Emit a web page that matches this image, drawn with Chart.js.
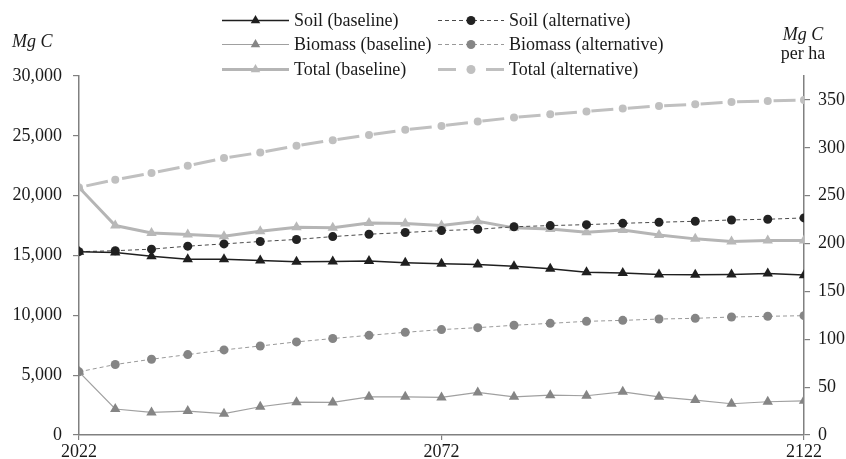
<!DOCTYPE html>
<html>
<head>
<meta charset="utf-8">
<script src="https://cdn.jsdelivr.net/npm/chart.js@4.4.1/dist/chart.umd.min.js"></script>
<style>
  html, body { margin: 0; padding: 0; background: #ffffff; }
  #wrap { width: 846px; height: 459px; position: relative; }
</style>
</head>
<body>
<div id="wrap"><canvas id="chart" width="846" height="459"></canvas></div>
<script>
// Carbon stock projections, 5-year steps
const years = [2022, 2027, 2032, 2037, 2042, 2047, 2052, 2057, 2062, 2067, 2072,
               2077, 2082, 2087, 2092, 2097, 2102, 2107, 2112, 2117, 2122];

const soilBaseline    = [15320, 15250, 14940, 14690, 14690, 14580, 14480, 14500, 14530, 14390, 14310,
                         14250, 14110, 13890, 13610, 13530, 13420, 13390, 13420, 13500, 13360];
const soilAlternative = [15320, 15400, 15530, 15780, 15970, 16170, 16340, 16580, 16780, 16920, 17080,
                         17190, 17400, 17500, 17580, 17690, 17780, 17860, 17970, 18030, 18140];
const biomassBaseline = [5280, 2170, 1890, 2000, 1780, 2360, 2740, 2720, 3190, 3190, 3140,
                         3560, 3190, 3330, 3280, 3610, 3190, 2920, 2610, 2780, 2860];
const biomassAlternative = [5280, 5890, 6330, 6720, 7110, 7440, 7780, 8060, 8330, 8580, 8810,
                            8970, 9170, 9330, 9500, 9580, 9690, 9750, 9860, 9920, 9970];
const totalBaseline   = [20690, 17500, 16890, 16750, 16610, 17030, 17360, 17310, 17720, 17670, 17500,
                         17860, 17310, 17220, 16940, 17140, 16720, 16390, 16170, 16250, 16250];
const totalAlternative = [20690, 21330, 21890, 22500, 23140, 23610, 24180, 24640, 25080, 25500, 25830,
                          26190, 26530, 26800, 27040, 27280, 27500, 27640, 27830, 27920, 28000];

const xTicks     = [2022, 2072, 2122];
const leftTicks  = [0, 5000, 10000, 15000, 20000, 25000, 30000];
const rightTicks = [0, 50, 100, 150, 200, 250, 300, 350];
const leftMax  = 30000;
const rightMax = 375;   // Mg C per ha equivalent of the left maximum

const FONT = "'Liberation Serif', 'Times New Roman', serif";
const TEXT = '#1a1a1a';
const AXIS = '#808080';

const styles = {
  soilB:    { line: '#1f1f1f', width: 1.5, dash: [],        marker: 'triangle', r: 6,   fill: '#1f1f1f' },
  soilA:    { line: '#4a4a4a', width: 1,   dash: [4, 3],    marker: 'circle',   r: 4.5, fill: '#222222' },
  bioB:     { line: '#a0a0a0', width: 1.2, dash: [],        marker: 'triangle', r: 6,   fill: '#858585' },
  bioA:     { line: '#999999', width: 1,   dash: [4, 3],    marker: 'circle',   r: 4.5, fill: '#858585' },
  totB:     { line: '#b5b5b5', width: 3,   dash: [],        marker: 'triangle', r: 6,   fill: '#b8b8b8' },
  totA:     { line: '#c0c0c0', width: 3,   dash: [22, 14.5], dashOffset: 29, marker: 'circle', r: 4, fill: '#c0c0c0' }
};

const toPoints = arr => years.map((x, i) => ({ x, y: arr[i] }));

function ds(label, values, st) {
  return {
    label,
    data: toPoints(values),
    yAxisID: 'y',
    borderColor: st.line,
    borderWidth: st.width,
    borderDash: st.dash,
    borderDashOffset: st.dashOffset || 0,
    pointStyle: st.marker,
    pointRadius: st.r,
    pointBackgroundColor: st.fill,
    pointBorderColor: st.fill,
    pointBorderWidth: 0,
    fill: false,
    tension: 0
  };
}

// Legend: line sample with a centred marker, then the label
const legendRows = [20.5, 44.5, 69.5];
const legendCols = [
  { x0: 222, x1: 289, textX: 294 },
  { x0: 438, x1: 504, textX: 509 }
];
const legendItems = [
  { label: 'Soil (baseline)',         col: 0, row: 0, st: styles.soilB },
  { label: 'Biomass (baseline)',      col: 0, row: 1, st: styles.bioB },
  { label: 'Total (baseline)',        col: 0, row: 2, st: styles.totB },
  { label: 'Soil (alternative)',      col: 1, row: 0, st: styles.soilA },
  { label: 'Biomass (alternative)',   col: 1, row: 1, st: styles.bioA },
  { label: 'Total (alternative)',     col: 1, row: 2, st: styles.totA, split: true }
];

function marker(ctx, type, x, y, r, color) {
  ctx.save();
  ctx.fillStyle = color;
  ctx.beginPath();
  if (type === 'triangle') {
    let a = 0;
    for (let k = 0; k < 3; k++) {
      const px = x + Math.sin(a) * r, py = y - Math.cos(a) * r;
      if (k === 0) ctx.moveTo(px, py); else ctx.lineTo(px, py);
      a += 2 * Math.PI / 3;
    }
    ctx.closePath();
  } else {
    ctx.arc(x, y, r, 0, Math.PI * 2);
  }
  ctx.fill();
  ctx.restore();
}

const annotations = {
  id: 'annotations',
  afterDraw(chart) {
    const ctx = chart.ctx;
    ctx.save();
    legendItems.forEach(it => {
      const c = legendCols[it.col];
      const y = legendRows[it.row];
      const mx = (c.x0 + c.x1) / 2;
      ctx.strokeStyle = it.st.line;
      ctx.lineWidth = it.st.width;
      ctx.beginPath();
      if (it.split) {
        ctx.setLineDash([]);
        ctx.moveTo(c.x0, y); ctx.lineTo(mx - 15, y);
        ctx.moveTo(mx + 15, y); ctx.lineTo(c.x1, y);
      } else {
        ctx.setLineDash(it.st.dash);
        ctx.moveTo(c.x0, y); ctx.lineTo(c.x1, y);
      }
      ctx.stroke();
      ctx.setLineDash([]);
      marker(ctx, it.st.marker, mx, y, it.st.marker === 'triangle' ? 5.5 : 4.5, it.st.fill);
      ctx.fillStyle = TEXT;
      ctx.font = '18px ' + FONT;
      ctx.textAlign = 'left';
      ctx.textBaseline = 'middle';
      ctx.fillText(it.label, c.textX, y + 1);
    });

    // Axis titles
    ctx.fillStyle = TEXT;
    ctx.textBaseline = 'middle';
    ctx.font = 'italic 18px ' + FONT;
    ctx.textAlign = 'left';
    ctx.fillText('Mg C', 12, 42);
    ctx.textAlign = 'center';
    ctx.fillText('Mg C', 803, 35);
    ctx.font = '18px ' + FONT;
    ctx.fillText('per ha', 803, 54);
    ctx.restore();
  }
};

const tickFont = { family: FONT, size: 18 };

new Chart(document.getElementById('chart'), {
  type: 'line',
  data: {
    datasets: [
      ds('Soil (baseline)', soilBaseline, styles.soilB),
      ds('Soil (alternative)', soilAlternative, styles.soilA),
      ds('Biomass (baseline)', biomassBaseline, styles.bioB),
      ds('Biomass (alternative)', biomassAlternative, styles.bioA),
      ds('Total (baseline)', totalBaseline, styles.totB),
      ds('Total (alternative)', totalAlternative, styles.totA)
    ]
  },
  options: {
    responsive: false,
    animation: false,
    devicePixelRatio: 1,
    layout: { padding: { top: 76, left: 0, right: 0, bottom: 0 } },
    plugins: { legend: { display: false }, tooltip: { enabled: false } },
    scales: {
      x: {
        type: 'linear',
        min: years[0],
        max: years[years.length - 1],
        afterBuildTicks: s => { s.ticks = xTicks.map(v => ({ value: v })); },
        afterFit: s => { s.height = 24; },
        grid: { display: true, drawOnChartArea: false, drawTicks: true, tickLength: 5, color: AXIS, lineWidth: 1.2 },
        border: { display: true, color: AXIS, width: 1.5 },
        ticks: { font: tickFont, color: TEXT, padding: 1, maxRotation: 0, autoSkip: false, callback: v => String(v) }
      },
      y: {
        type: 'linear',
        position: 'left',
        min: 0,
        max: leftMax,
        afterBuildTicks: s => { s.ticks = leftTicks.map(v => ({ value: v })); },
        afterFit: s => { s.width = 79; },
        grid: { display: true, drawOnChartArea: false, drawTicks: true, tickLength: 6, color: AXIS, lineWidth: 1.2 },
        border: { display: true, color: AXIS, width: 1.5 },
        ticks: { font: tickFont, color: TEXT, padding: 11, callback: v => v.toLocaleString('en-US') }
      },
      y1: {
        type: 'linear',
        position: 'right',
        min: 0,
        max: rightMax,
        afterBuildTicks: s => { s.ticks = rightTicks.map(v => ({ value: v })); },
        afterFit: s => { s.width = 42; },
        grid: { display: true, drawOnChartArea: false, drawTicks: true, tickLength: 6, color: AXIS, lineWidth: 1.2 },
        border: { display: true, color: AXIS, width: 1.5 },
        ticks: { font: tickFont, color: TEXT, padding: 8, callback: v => String(v) }
      }
    }
  },
  plugins: [annotations]
});
</script>
</body>
</html>
